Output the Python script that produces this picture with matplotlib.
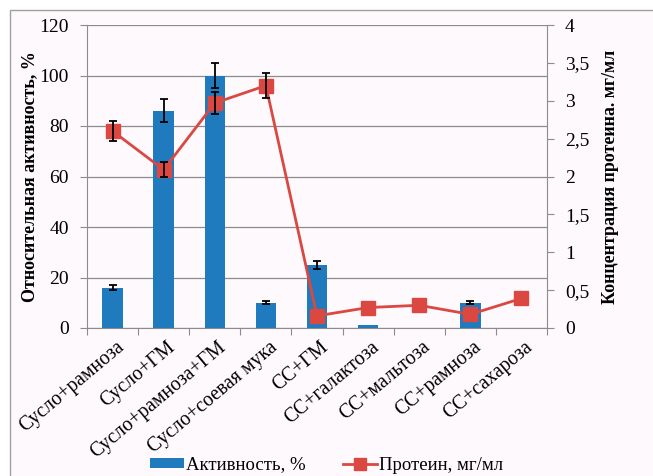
import matplotlib
matplotlib.use("Agg")
import matplotlib.pyplot as plt
from matplotlib.patches import Rectangle
from matplotlib.lines import Line2D
import numpy as np

categories = ["Сусло+рамноза", "Сусло+ГМ", "Сусло+рамноза+ГМ", "Сусло+соевая мука",
              "СС+ГМ", "СС+галактоза", "СС+мальтоза", "СС+рамноза", "СС+сахароза"]
activity = [16, 86, 100, 10, 25, 1, 0, 10, 0]
activity_err = [1, 4.5, 5, 0.5, 1.5, 0, 0, 0.6, 0]
protein = [2.6, 2.09, 2.97, 3.2, 0.16, 0.27, 0.30, 0.18, 0.39]
protein_err = [0.13, 0.1, 0.15, 0.16, 0, 0, 0, 0, 0]
left_ticks = [0, 20, 40, 60, 80, 100, 120]
right_ticks = [0, 0.5, 1, 1.5, 2, 2.5, 3, 3.5, 4]
right_labels = ["0", "0,5", "1", "1,5", "2", "2,5", "3", "3,5", "4"]

plt.rcParams['font.family'] = ['Liberation Serif', 'DejaVu Serif']

W, H = 653, 476
fig = plt.figure(figsize=(W / 100, H / 100), dpi=100)
fig.patch.set_facecolor("white")
bg = "#fdf9fd"
fig.patches.append(Rectangle((10 / W, -0.1), 1.2, 1 - 10 / H + 0.1, transform=fig.transFigure,
                             facecolor=bg, edgecolor="#a0a0a0", linewidth=1.0, zorder=-10))

ax = fig.add_axes([87 / W, 1 - 328 / H, (547 - 87) / W, (328 - 25) / H])
ax.patch.set_alpha(0)
x = np.arange(len(categories))
blue = "#1f7bbd"
red = "#da4841"
ax.bar(x, activity, width=0.4, color=blue, zorder=3)
for xi, v, e in zip(x, activity, activity_err):
    if e > 0:
        ax.errorbar(xi, v, yerr=e, fmt="none", ecolor="black", elinewidth=1.3, capsize=3, capthick=1.3, zorder=5)
ax.set_xlim(-0.5, len(categories) - 0.5)
ax.set_ylim(0, 120)
ax.set_yticks(left_ticks)
ax.set_yticklabels([str(t) for t in left_ticks])
ax.yaxis.grid(True, color="#8c8c8c", linewidth=0.9, zorder=0)
ax.set_axisbelow(True)
ax.set_xticks(np.arange(-0.5, len(categories) + 0.5, 1))
ax.set_xticklabels([])
ax.set_xticks(x + 0.06, minor=True)
ax.set_xticklabels(categories, minor=True, rotation=40, ha="right", rotation_mode="anchor", fontsize=14.2)
ax.tick_params(axis="x", which="minor", length=0, pad=7)
ax.tick_params(axis="x", which="major", length=5, color="#8c8c8c")
ax.tick_params(axis="y", length=5, color="#8c8c8c", labelsize=14, pad=8)
for s in ["top", "right"]:
    ax.spines[s].set_visible(False)
ax.spines["left"].set_color("#8c8c8c")
ax.spines["bottom"].set_color("#8c8c8c")
ax.set_ylabel("Относительная активность, %", fontsize=13, fontweight="bold")
ax.yaxis.set_label_coords(-0.106, 0.5)

ax2 = ax.twinx()
ax2.set_ylim(0, 4)
ax2.plot(x, protein, color=red, linewidth=2, marker="s", markersize=9.5, zorder=6)
for xi, v, e in zip(x, protein, protein_err):
    if e > 0:
        ax2.errorbar(xi, v, yerr=e, fmt="none", ecolor="black", elinewidth=1.3, capsize=3, capthick=1.3, zorder=7)
ax2.set_yticks(right_ticks)
ax2.set_yticklabels(right_labels)
ax2.tick_params(axis="y", length=5, color="#8c8c8c", labelsize=14, pad=8)
for s in ["top", "left", "bottom"]:
    ax2.spines[s].set_visible(False)
ax2.spines["right"].set_color("#8c8c8c")
ax2.set_ylabel("Концентрация протеина. мг/мл", fontsize=13, fontweight="bold")
ax2.yaxis.set_label_coords(1.119, 0.5)

handles = [Rectangle((0, 0), 1, 1, facecolor=blue),
           Line2D([0], [0], color=red, linewidth=2, marker="s", markersize=8)]
fig.legend(handles, ["Активность, %", "Протеин, мг/мл"], loc="center", bbox_to_anchor=(0.5, 1 - 465 / H),
           ncol=2, frameon=False, fontsize=13.5, handlelength=1.8, handleheight=0.5,
           handletextpad=0.1, columnspacing=2.0)

fig.savefig("out.png", dpi=100, facecolor="white")
